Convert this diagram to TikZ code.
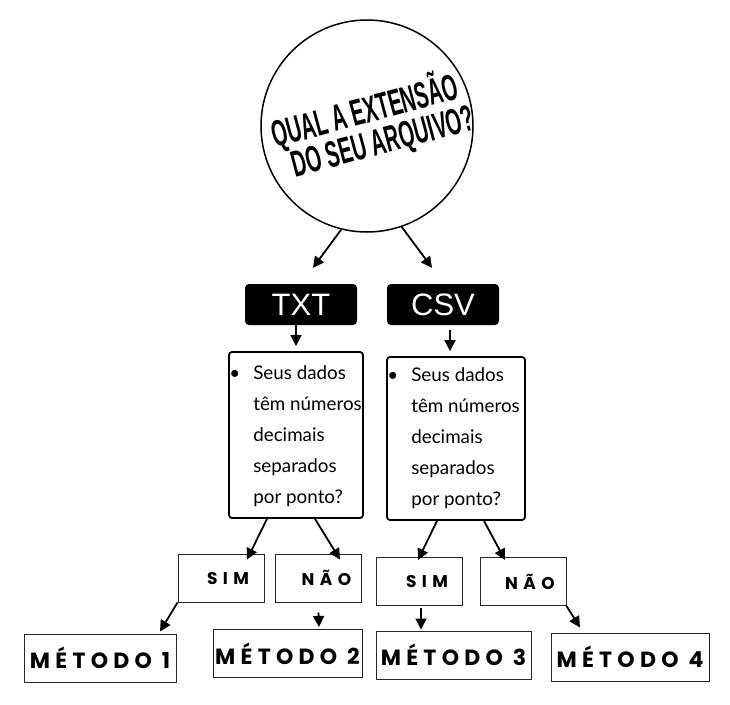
\documentclass[tikz,border=0pt]{standalone}
\usepackage{fontspec}
\setmainfont{Lato}
\newfontfamily\titlefont{Liberation Sans}
\newfontfamily\boxfont{Liberation Sans}
\newfontfamily\metfont[LetterSpace=24]{Poppins}
\newfontfamily\simfont[LetterSpace=32]{Poppins}
\usetikzlibrary{positioning}
\usetikzlibrary{arrows.meta}

\begin{document}
\begin{tikzpicture}[x=1pt,y=-1pt,
  seta/.style={-{Triangle[length=11pt,width=11pt]},line width=1.8pt},
  etiqueta/.style={fill=black,rounded corners=4pt,minimum width=112pt,minimum height=41pt,
    inner sep=0pt,text=white,font=\boxfont\fontsize{31}{31}\selectfont},
  caixa/.style={draw,line width=1.8pt,rounded corners=3pt,inner sep=0pt},
  texto/.style={anchor=north west,align=left,inner sep=0pt,font=\fontsize{18.8}{31}\selectfont},
  opcao/.style={draw=black!85,line width=1pt,inner sep=0pt,minimum width=86pt,minimum height=48pt},
  rotulo/.style={font=\simfont\bfseries\fontsize{17}{17}\selectfont},
  metodo/.style={draw=black!85,line width=1pt,inner sep=0pt,minimum height=48pt,
    font=\metfont\bfseries\fontsize{22}{22}\selectfont}]
 \useasboundingbox (0,0) rectangle (730,704);
 \node[draw,circle,line width=1.5pt,minimum size=212pt] (q) at (367,126) {};
 \node[rotate=15,xscale=0.54,align=center,inner sep=0pt,font=\titlefont\bfseries\fontsize{37}{34}\selectfont] (qt) at (369,127)
   {QUAL A EXTENSÃO\\\hspace*{36pt}DO SEU ARQUIVO?};
 \node[etiqueta] (txt) at (301,304.5) {TXT};
 \node[etiqueta] (csv) at (443,304.5) {CSV};
 \node[caixa,minimum width=134pt,minimum height=166pt] (b1) at (296,435) {};
 \node[caixa,minimum width=138pt,minimum height=163pt] (b2) at (456,438.5) {};
 \node[texto] (t1) at ([xshift=25pt,yshift=-14pt]b1.north west) {\llap{\textbullet\hspace{13pt}}Seus dados\\têm números\\decimais\\separados\\por ponto?};
 \node[texto] (t2) at ([xshift=25pt,yshift=-11pt]b2.north west) {\llap{\textbullet\hspace{13pt}}Seus dados\\têm números\\decimais\\separados\\por ponto?};
 \node[opcao,label={[rotulo,xshift=7pt]center:SIM}] (s1) at (221,578) {};
 \node[opcao,label={[rotulo,xshift=8pt]center:NÃO}] (n1) at (318.5,578) {};
 \node[opcao,label={[rotulo,xshift=8pt]center:SIM}] (s2) at (419,581.5) {};
 \node[opcao,label={[rotulo,xshift=7pt]center:NÃO}] (n2) at (523,581.5) {};
 \node[metodo,minimum width=152pt] (m1) at (100,658) {MÉTODO 1};
 \node[metodo,minimum width=149pt] (m2) at (287.5,653.5) {MÉTODO 2};
 \node[metodo,minimum width=155pt] (m3) at (453.5,655) {MÉTODO 3};
 \node[metodo,minimum width=158pt] (m4) at (630,657) {MÉTODO 4};
 \draw[seta] (q.256) -- ([xshift=12pt,yshift=16pt]txt.north);
 \draw[seta] (q.289) -- ([xshift=-11pt,yshift=16pt]csv.north);
 \draw[seta] (txt.south -| b1.north) -- ([yshift=5pt]b1.north);
 \draw[seta] ([xshift=7pt,yshift=-5pt]csv.south) -- ([xshift=-6pt,yshift=5pt]b2.north);
 \draw[seta] ([xshift=-29pt]b1.south) -- ([xshift=26pt,yshift=-6pt]s1.north);
 \draw[seta] ([xshift=19pt]b1.south) -- ([xshift=21.5pt,yshift=-6pt]n1.north);
 \draw[seta] ([xshift=-19pt]b2.south) -- ([xshift=-1pt,yshift=-3pt]s2.north);
 \draw[seta] ([xshift=28pt]b2.south) -- ([xshift=-18pt,yshift=-3pt]n2.north);
 \draw[seta] (s1.south west) -- ([xshift=60pt,yshift=2pt]m1.north);
 \draw[seta] ([yshift=-10pt]n1.south) -- ([xshift=31.5pt,yshift=2pt]m2.north);
 \draw[seta] ([xshift=2pt,yshift=-2pt]s2.south) -- ([xshift=-32.5pt,yshift=1pt]m3.north);
 \draw[seta] (n2.south east) -- ([xshift=-50pt,yshift=5pt]m4.north);
\end{tikzpicture}
\end{document}
